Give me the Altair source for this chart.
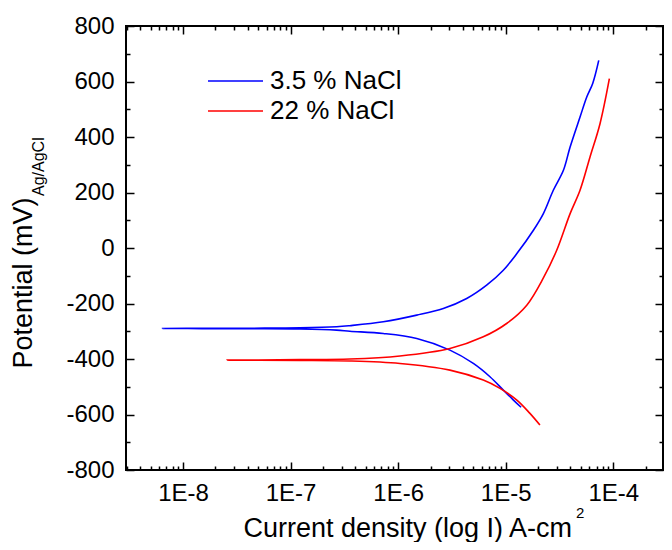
import altair as alt
import pandas as pd

series_names = ["3.5 % NaCl", "22 % NaCl"]
series_colors = ["#0000FF", "#FF0000"]

# 3.5 % NaCl: cathodic branch (end -> Ecorr) then anodic branch
blue_current = [1.39e-5, 1.18e-5, 9.50e-6, 7.14e-6, 5.00e-6, 3.03e-6, 1.49e-6, 7.27e-7,
                3.56e-7, 2.68e-7, 1.22e-7, 4.2e-8, 1.5e-8, 6.45e-9,
                1.5e-8, 4.2e-8, 1.22e-7, 2.68e-7, 3.56e-7, 7.27e-7, 1.49e-6, 2.63e-6,
                4.34e-6, 6.65e-6, 9.50e-6, 1.27e-5, 1.81e-5, 2.24e-5, 2.77e-5, 3.44e-5,
                3.97e-5, 4.91e-5, 5.67e-5, 6.44e-5, 7.33e-5]
blue_potential = [-574, -548, -512, -464, -416, -368, -326, -308,
                  -300, -296, -292, -291, -290.5, -290,
                  -289.5, -289, -288, -284, -280, -266, -242, -218,
                  -182, -134, -80, -20, 64, 124, 208, 280,
                  364, 472, 544, 593, 676]

# 22 % NaCl
red_current = [2.08e-5, 1.68e-5, 1.27e-5, 8.85e-6, 6.19e-6, 3.03e-6, 1.04e-6, 3.56e-7,
               1.22e-7, 5e-8, 2.57e-8,
               5e-8, 1.22e-7, 3.56e-7, 1.04e-6, 3.03e-6, 6.19e-6, 1.02e-5, 1.57e-5,
               2.24e-5, 2.98e-5, 3.97e-5, 4.91e-5, 6.08e-5, 7.53e-5, 9.20e-5]
red_potential = [-638, -596, -548, -506, -476, -440, -416, -407,
                 -405, -404.5, -404,
                 -403.5, -402, -400, -389, -362, -320, -272, -206,
                 -108, -8, 124, 208, 328, 448, 610]

y_major = list(range(-800, 801, 200))
y_all = list(range(-800, 801, 100))
x_domain = [2.95e-9, 2.9e-4]
x_all = [float(f"{n}e{k}") for k in range(-9, -3) for n in range(1, 10)
         if x_domain[0] <= float(f"{n}e{k}") <= x_domain[1]]
x_major = [float(f"1e{k}") for k in range(-8, -3)]

rows = []
for name, cur, pot in [(series_names[0], blue_current, blue_potential),
                       (series_names[1], red_current, red_potential)]:
    for i, (c, p) in enumerate(zip(cur, pot)):
        rows.append({"series": name, "current": c, "potential": p, "idx": i})
df = pd.DataFrame(rows)

W, H = 537, 444
FONT = "Liberation Sans"
FS = 24
TFS = 27

xscale = alt.Scale(type="log", domain=x_domain, nice=False)
yscale = alt.Scale(domain=[-800, 800], nice=False)

is_major_x = "abs(log(datum.value)/LN10 - round(log(datum.value)/LN10)) < 0.001"
is_major_y = "datum.value % 200 == 0"

axis_x_main = alt.Axis(
    orient="bottom", values=x_major, grid=False, domain=False, ticks=False, tickSize=0,
    labelExpr="'1E' + round(log(datum.value)/LN10)", labelFont=FONT, labelFontSize=FS,
    labelColor="black", labelPadding=11, labelFlush=False, labelOverlap=False,
    title="Current density (log I) A-cm", titleFont=FONT, titleFontSize=TFS,
    titleFontWeight="normal", titleColor="black", titleX=117, titleY=66,
    titleAlign="left", titleBaseline="alphabetic")
axis_y_main = alt.Axis(
    orient="left", values=y_major, grid=False, domain=False, ticks=False, tickSize=0,
    labelExpr="'' + datum.value", labelFont=FONT, labelFontSize=FS, labelColor="black",
    labelPadding=12, labelFlush=False, labelOverlap=False,
    title="Potential (mV)", titleFont=FONT, titleFontSize=TFS, titleFontWeight="normal",
    titleColor="black", titleAngle=270, titleX=-95, titleY=342, titleAlign="left",
    titleBaseline="alphabetic")


def tick_axis_x(orient, offset):
    return alt.Axis(orient=orient, offset=offset, values=x_all, grid=False, domain=False,
                    labels=False, title=None, tickColor="black", tickWidth=1.5,
                    tickSize={"condition": {"test": is_major_x, "value": 8}, "value": 4})


def tick_axis_y(orient, offset):
    return alt.Axis(orient=orient, offset=offset, values=y_all, grid=False, domain=False,
                    labels=False, title=None, tickColor="black", tickWidth=1.5,
                    tickSize={"condition": {"test": is_major_y, "value": 8}, "value": 4})


base = alt.Chart(df)

lines = base.mark_line(strokeWidth=1.6, interpolate="catmull-rom").encode(
    x=alt.X("current:Q", scale=xscale, axis=axis_x_main),
    y=alt.Y("potential:Q", scale=yscale, axis=axis_y_main),
    color=alt.Color("series:N", scale=alt.Scale(domain=series_names, range=series_colors),
                    legend=alt.Legend(orient="none", legendX=81, legendY=40, title=None,
                                      symbolType="stroke", symbolSize=3025,
                                      symbolStrokeWidth=1.6, labelFont=FONT,
                                      labelFontSize=26, labelColor="black", labelOffset=6,
                                      clipHeight=30, rowPadding=0, padding=0)),
    order="idx:Q",
    detail="series:N",
)

ticks_a = base.mark_line(opacity=0).encode(
    x=alt.X("current:Q", scale=xscale, axis=tick_axis_x("top", -H)),
    y=alt.Y("potential:Q", scale=yscale, axis=tick_axis_y("right", -W)),
    detail="series:N",
)
ticks_b = base.mark_line(opacity=0).encode(
    x=alt.X("current:Q", scale=xscale, axis=tick_axis_x("bottom", -H)),
    y=alt.Y("potential:Q", scale=yscale, axis=tick_axis_y("left", -W)),
    detail="series:N",
)

sub_df = pd.DataFrame({"t": ["Ag/AgCl"]})
sub_y = alt.Chart(sub_df).mark_text(angle=270, align="left", baseline="alphabetic",
                                    font=FONT, fontSize=16, color="black").encode(
    x=alt.value(44 - 126), y=alt.value(196 - 26), text="t:N")
sup_df = pd.DataFrame({"t": ["2"]})
sup_x = alt.Chart(sup_df).mark_text(align="left", baseline="alphabetic",
                                    font=FONT, fontSize=15, color="black").encode(
    x=alt.value(576 - 126), y=alt.value(518 - 26), text="t:N")

chart = alt.layer(lines, ticks_a, ticks_b, sub_y, sup_x).resolve_axis(
    x="independent", y="independent"
).properties(
    width=W, height=H,
    autosize=alt.AutoSizeParams(type="none"),
    padding={"left": 118, "top": 18, "right": 1, "bottom": 72},
    background="white",
).configure_view(stroke="black", strokeWidth=2)

chart.save("out.html", embed_options={"renderer": "svg", "actions": False})
